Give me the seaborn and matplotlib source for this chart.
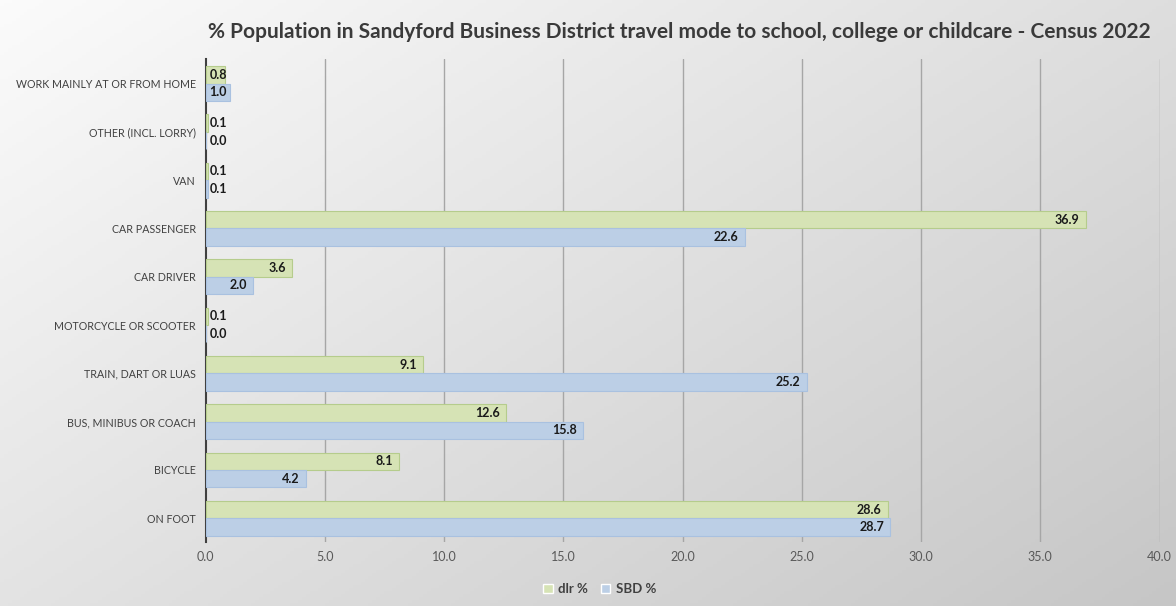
import numpy as np
import pandas as pd
import matplotlib.pyplot as plt
import seaborn as sns

# ------------------------- Data -------------------------

categories = [
    "WORK MAINLY AT OR FROM HOME",
    "OTHER (INCL. LORRY)",
    "VAN",
    "CAR PASSENGER",
    "CAR DRIVER",
    "MOTORCYCLE OR SCOOTER",
    "TRAIN, DART OR LUAS",
    "BUS, MINIBUS OR COACH",
    "BICYCLE",
    "ON FOOT",
]
dlr_pct = [0.8, 0.1, 0.1, 36.9, 3.6, 0.1, 9.1, 12.6, 8.1, 28.6]
sbd_pct = [1.0, 0.0, 0.1, 22.6, 2.0, 0.0, 25.2, 15.8, 4.2, 28.7]
series = ["dlr %", "SBD %"]
x_ticks = [0, 5, 10, 15, 20, 25, 30, 35, 40]

df = pd.DataFrame({
    "mode": categories * 2,
    "series": [series[0]] * len(categories) + [series[1]] * len(categories),
    "value": dlr_pct + sbd_pct,
})

# ------------------------- Figure -------------------------

sns.set_style("white")
plt.rcParams["font.family"] = ["Lato", "DejaVu Sans"]

fig = plt.figure(figsize=(11.76, 6.06), dpi=100)

# gradient background (light top-left, grey bottom-right)
bg = fig.add_axes([0, 0, 1, 1], zorder=-10)
gx, gy = np.meshgrid(np.linspace(0, 1, 300), np.linspace(0, 1, 200))
grad = 0.55 * gx + 0.45 * gy
bg.imshow(grad, cmap=plt.matplotlib.colors.LinearSegmentedColormap.from_list(
    "bg", ["#fbfbfb", "#c6c6c6"]), aspect="auto", extent=[0, 1, 0, 1], origin="upper")
bg.set_axis_off()

ax = fig.add_axes([0.175, 0.105, 0.811, 0.797])
ax.patch.set_alpha(0)

palette = {"dlr %": "#d6e3b5", "SBD %": "#bccfe6"}
edges = {"dlr %": "#b5cc8c", "SBD %": "#a9c1e0"}

sns.barplot(data=df, y="mode", x="value", hue="series", order=categories,
            hue_order=series, palette=palette, orient="h", width=0.72,
            ax=ax, zorder=3, saturation=1)

# bar edges + value labels
for cont, s in zip(ax.containers, series):
    for bar in cont:
        bar.set_edgecolor(edges[s])
        bar.set_linewidth(0.8)
        w = bar.get_width()
        yc = bar.get_y() + bar.get_height() / 2
        if w > 1.2:
            ax.text(w - 0.25, yc, f"{w:.1f}", ha="right", va="center",
                    fontsize=9, fontweight="bold", color="#1a1a1a", zorder=5)
        else:
            ax.text(0.15, yc, f"{w:.1f}", ha="left", va="center",
                    fontsize=9, fontweight="bold", color="#1a1a1a", zorder=5)

ax.set_xlim(0, 40)
ax.set_xticks(x_ticks)
ax.set_xticklabels([f"{t:.1f}" for t in x_ticks])
for t in x_ticks[1:]:
    ax.axvline(t, color="#a6a6a6", linewidth=1, zorder=1)

ax.set_xlabel("")
ax.set_ylabel("")
for side in ["top", "right", "bottom"]:
    ax.spines[side].set_visible(False)
ax.spines["left"].set_color("#404040")
ax.spines["left"].set_linewidth(1.5)
ax.tick_params(axis="x", colors="#595959", labelsize=9, length=0, pad=6)
ax.tick_params(axis="y", colors="#404040", labelsize=7.7, length=0, pad=7)

ax.legend(loc="center", bbox_to_anchor=(0.413, -0.097), ncol=2,
          frameon=False, handlelength=0.7, handleheight=0.7,
          columnspacing=1.0, handletextpad=0.4, prop={"weight": "bold", "size": 9.5},
          labelcolor="#404040")

fig.suptitle("% Population in Sandyford Business District travel mode to school, "
             "college or childcare - Census 2022",
             x=0.578, y=0.963, fontsize=15, fontweight="bold", color="#3a3a3a")

fig.savefig("out.png", dpi=100)
